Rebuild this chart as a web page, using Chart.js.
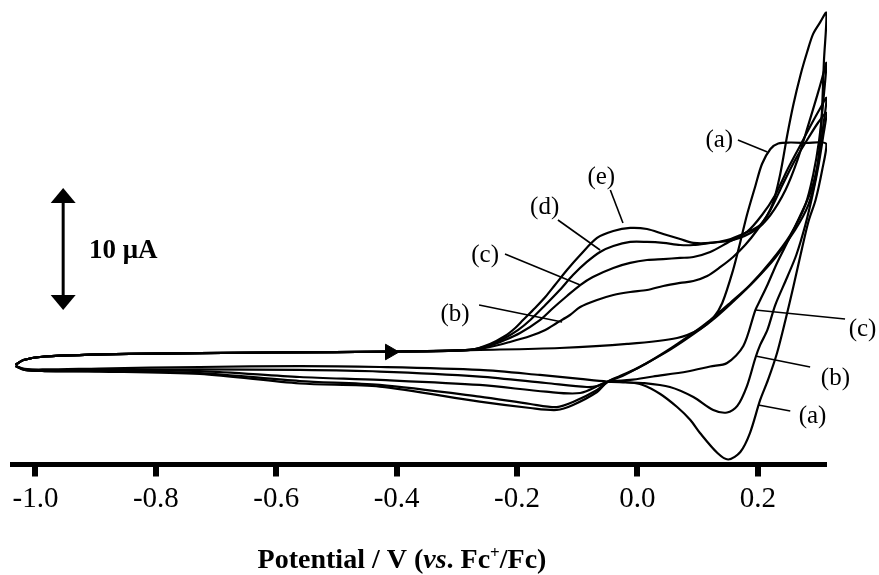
<!DOCTYPE html>
<html>
<head>
<meta charset="utf-8">
<script src="https://cdn.jsdelivr.net/npm/chart.js@4.4.1/dist/chart.umd.min.js"></script>
<style>
  html, body { margin: 0; padding: 0; background: #fff; }
  canvas { display: block; }
</style>
</head>
<body>
<canvas id="cv" width="879" height="575"></canvas>
<script>
// ---- Data: potential (V vs Fc+/Fc) and current (uA) for each CV loop ----
const tickValues = [-1.0, -0.8, -0.6, -0.4, -0.2, 0.0, 0.2];

const potA = [-1.033,-1.020,-0.985,-0.844,-0.611,-0.395,-0.262,-0.129,-0.017,0.066,0.104,0.126,0.141,0.159,0.171,0.182,0.196,0.207,0.221,0.234,0.254,0.279,0.314,
              0.307,0.296,0.284,0.271,0.259,0.246,0.232,0.217,0.204,0.187,0.171,0.151,0.133,0.104,0.088,0.066,0.038,0.009,-0.020,-0.050,-0.095,-0.162,-0.262,-0.428,-0.561,-0.727,-0.894,-0.985,-1.018,-1.033];
const curA = [-0.57,-0.16,0.12,0.33,0.45,0.53,0.66,0.82,1.15,1.64,2.38,3.28,4.51,7.21,9.51,11.72,14.10,15.90,17.13,17.58,17.66,17.62,17.54,
              15.41,12.95,11.15,8.44,5.82,3.11,0.41,-1.80,-3.44,-6.15,-7.70,-8.32,-7.79,-6.15,-5.08,-4.02,-2.95,-2.21,-1.97,-1.93,-1.72,-1.39,-0.98,-0.74,-0.66,-0.74,-0.86,-0.94,-0.90,-0.66];

const potB = [-1.033,-1.020,-0.985,-0.844,-0.611,-0.395,-0.278,-0.245,-0.212,-0.178,-0.153,-0.134,-0.112,-0.095,-0.067,-0.040,-0.012,0.016,0.043,0.071,0.093,0.116,0.138,0.159,0.179,0.199,0.221,0.241,0.262,0.284,0.301,0.314,
              0.309,0.301,0.291,0.279,0.264,0.249,0.229,0.216,0.204,0.196,0.182,0.166,0.149,0.126,0.093,0.054,0.009,-0.020,-0.050,-0.067,-0.084,-0.152,-0.262,-0.428,-0.561,-0.727,-0.894,-0.985,-1.018,-1.033];
const curB = [-0.57,-0.16,0.12,0.33,0.45,0.53,0.66,0.90,1.31,1.80,2.30,2.87,3.52,4.18,4.75,5.16,5.41,5.57,5.90,6.15,6.31,6.72,7.46,8.28,9.26,10.49,12.13,14.18,16.23,18.03,19.34,20.08,
              18.28,15.82,13.36,10.90,8.44,6.64,4.34,2.30,1.07,0.00,-2.30,-3.93,-4.47,-4.26,-3.20,-2.38,-2.05,-2.01,-1.97,-2.30,-2.38,-2.05,-1.52,-1.11,-0.98,-0.94,-0.98,-1.02,-0.94,-0.66];

const potC = [-1.033,-1.020,-0.985,-0.844,-0.611,-0.395,-0.278,-0.245,-0.220,-0.195,-0.162,-0.140,-0.117,-0.095,-0.074,-0.040,-0.012,0.016,0.043,0.071,0.093,0.121,0.149,0.182,0.207,0.229,0.249,0.271,0.291,0.304,0.314,
              0.309,0.301,0.289,0.271,0.251,0.232,0.216,0.204,0.196,0.176,0.149,0.121,0.083,0.026,-0.012,-0.050,-0.095,-0.152,-0.262,-0.428,-0.561,-0.727,-0.894,-0.985,-1.018,-1.033];
const curC = [-0.57,-0.16,0.12,0.33,0.45,0.53,0.66,1.02,1.48,2.05,3.11,4.10,5.08,5.98,6.64,7.38,7.79,8.03,8.11,8.20,8.28,8.69,9.43,10.33,11.72,13.36,15.41,17.46,19.34,20.49,21.31,
              19.10,16.23,13.77,11.72,9.67,7.79,5.98,4.75,3.93,0.98,-0.41,-0.70,-1.11,-1.52,-1.80,-1.97,-2.87,-2.76,-2.21,-1.80,-1.56,-1.07,-1.02,-1.02,-0.94,-0.66];

const potD = [-1.033,-1.020,-0.985,-0.844,-0.611,-0.395,-0.278,-0.245,-0.220,-0.198,-0.178,-0.153,-0.129,-0.107,-0.084,-0.062,-0.040,-0.012,0.016,0.043,0.071,0.093,0.121,0.159,0.196,0.221,0.246,0.266,0.284,0.299,0.307,0.314,
              0.309,0.302,0.292,0.279,0.254,0.221,0.187,0.154,0.121,0.088,0.046,0.004,-0.029,-0.050,-0.067,-0.107,-0.134,-0.178,-0.262,-0.428,-0.561,-0.727,-0.894,-0.985,-1.018,-1.033];
const curD = [-0.57,-0.16,0.12,0.33,0.45,0.53,0.66,1.07,1.64,2.30,3.11,4.34,5.57,6.80,7.87,8.69,9.18,9.51,9.51,9.43,9.26,9.26,9.43,9.67,10.49,11.72,13.77,16.23,19.10,21.56,22.95,24.18,
              21.15,17.87,15.00,12.54,10.08,7.87,5.98,4.51,3.11,1.89,0.49,-0.74,-1.48,-1.97,-2.62,-3.61,-4.02,-3.77,-3.17,-2.21,-1.89,-1.23,-1.07,-1.07,-0.98,-0.66];

const potE = [-1.033,-1.020,-0.985,-0.844,-0.611,-0.395,-0.278,-0.245,-0.220,-0.203,-0.190,-0.170,-0.153,-0.137,-0.117,-0.095,-0.067,-0.040,-0.012,0.016,0.043,0.071,0.093,0.121,0.149,0.179,0.204,0.224,0.237,0.249,0.259,0.271,0.282,0.292,0.304,0.314,
              0.310,0.305,0.297,0.284,0.262,0.229,0.196,0.162,0.129,0.096,0.054,0.013,-0.025,-0.050,-0.067,-0.107,-0.134,-0.178,-0.262,-0.428,-0.561,-0.727,-0.894,-0.985,-1.018,-1.033];
const curE = [-0.57,-0.16,0.12,0.33,0.45,0.53,0.66,1.15,1.80,2.46,3.11,4.10,5.00,5.98,7.21,8.44,9.84,10.41,10.66,10.57,10.16,9.75,9.43,9.43,9.67,10.25,10.90,12.54,15.00,18.28,20.74,23.20,25.08,26.56,27.54,28.28,
              24.43,18.69,15.00,12.54,10.49,8.20,6.39,4.75,3.28,2.05,0.66,-0.49,-1.48,-1.97,-2.79,-3.85,-4.26,-4.10,-3.58,-2.35,-2.09,-1.31,-1.11,-1.07,-0.98,-0.66];

// scan direction marker (V, uA)
const scanArrow = [{ x: -0.411, y: 0.49 }];

// curve labels: text, text centre, leader start, leader end (V, uA)
const curveLabels = [
  { text: '(a)', at: [0.136, 17.70], from: [0.167, 17.87], to: [0.216, 16.89] },
  { text: '(e)', at: [-0.060, 14.67], from: [-0.045, 13.77], to: [-0.024, 11.07] },
  { text: '(d)', at: [-0.154, 12.21], from: [-0.132, 11.31], to: [-0.062, 8.85] },
  { text: '(c)', at: [-0.253, 8.20], from: [-0.220, 8.52], to: [-0.095, 5.98] },
  { text: '(b)', at: [-0.303, 3.44], from: [-0.263, 4.34], to: [-0.125, 2.95] },
  { text: '(c)', at: [0.374, 2.21], from: [0.345, 3.20], to: [0.196, 3.93] },
  { text: '(b)', at: [0.329, -1.80], from: [0.287, -0.74], to: [0.196, 0.16] },
  { text: '(a)', at: [0.291, -4.92], from: [0.254, -4.34], to: [0.201, -3.85] }
];

// 10 uA scale bar (V position, top current, span)
const scaleBar = { x: -0.954, top: 13.93, span: 10, label: '10 μA', labelX: -0.911 };

const SERIF = '"Liberation Serif", "Times New Roman", serif';

function toPoints(p, c) { return p.map((v, k) => ({ x: v, y: c[k] })); }

const loops = [[potA, curA], [potB, curB], [potC, curC], [potD, curD], [potE, curE]];

const datasets = loops.map(([p, c]) => ({
  data: toPoints(p, c),
  showLine: true,
  borderColor: '#000',
  borderWidth: 2.2,
  pointRadius: 0,
  tension: 0.3,
  fill: false
}));
datasets.push({
  data: scanArrow,
  showLine: false,
  pointStyle: 'triangle',
  rotation: 90,
  pointRadius: 9,
  backgroundColor: '#000',
  borderColor: '#000',
  borderWidth: 1
});

const whiteBg = {
  id: 'whiteBg',
  beforeDraw(chart) {
    const c = chart.ctx;
    c.save(); c.fillStyle = '#fff'; c.fillRect(0, 0, chart.width, chart.height); c.restore();
  }
};

const annot = {
  id: 'annot',
  afterDraw(chart) {
    const ctx = chart.ctx;
    const xs = chart.scales.x, ys = chart.scales.y;
    const px = v => xs.getPixelForValue(v), py = v => ys.getPixelForValue(v);
    ctx.save();
    ctx.fillStyle = '#000';
    ctx.strokeStyle = '#000';

    // labels with leader lines
    ctx.lineWidth = 1.6;
    ctx.font = '25px ' + SERIF;
    ctx.textAlign = 'center';
    ctx.textBaseline = 'middle';
    for (const L of curveLabels) {
      ctx.beginPath();
      ctx.moveTo(px(L.from[0]), py(L.from[1]));
      ctx.lineTo(px(L.to[0]), py(L.to[1]));
      ctx.stroke();
      ctx.fillText(L.text, px(L.at[0]), py(L.at[1]) - 2);
    }

    // scale bar
    const bx = px(scaleBar.x);
    const yt = py(scaleBar.top), yb = py(scaleBar.top - scaleBar.span);
    const hh = 15, hw = 12.5;
    ctx.lineWidth = 3;
    ctx.beginPath(); ctx.moveTo(bx, yt + hh - 1); ctx.lineTo(bx, yb - hh + 1); ctx.stroke();
    ctx.beginPath(); ctx.moveTo(bx, yt); ctx.lineTo(bx - hw, yt + hh); ctx.lineTo(bx + hw, yt + hh); ctx.closePath(); ctx.fill();
    ctx.beginPath(); ctx.moveTo(bx, yb); ctx.lineTo(bx - hw, yb - hh); ctx.lineTo(bx + hw, yb - hh); ctx.closePath(); ctx.fill();
    ctx.font = 'bold 27px ' + SERIF;
    ctx.textAlign = 'left';
    ctx.textBaseline = 'alphabetic';
    ctx.fillText(scaleBar.label, px(scaleBar.labelX), (yt + yb) / 2 + 9);

    // axis title with italic and superscript parts
    const parts = [
      { t: 'Potential / V (', f: 'bold 28px ' + SERIF, dy: 0 },
      { t: 'vs', f: 'italic bold 28px ' + SERIF, dy: 0 },
      { t: '. Fc', f: 'bold 28px ' + SERIF, dy: 0 },
      { t: '+', f: 'bold 17px ' + SERIF, dy: -10 },
      { t: '/Fc)', f: 'bold 28px ' + SERIF, dy: 0 }
    ];
    let total = 0;
    for (const p of parts) { ctx.font = p.f; p.w = ctx.measureText(p.t).width; total += p.w; }
    let x0 = 402 - total / 2;
    const base = 568;
    for (const p of parts) { ctx.font = p.f; ctx.fillText(p.t, x0, base + p.dy); x0 += p.w; }
    ctx.restore();
  }
};

new Chart(document.getElementById('cv'), {
  type: 'scatter',
  data: { datasets },
  options: {
    responsive: false,
    animation: false,
    devicePixelRatio: 1,
    layout: { padding: { left: 12, right: 52, top: 10, bottom: 0 } },
    plugins: { legend: { display: false }, tooltip: { enabled: false }, title: { display: false } },
    scales: {
      x: {
        type: 'linear',
        position: 'bottom',
        min: -1.039,
        max: 0.315,
        afterBuildTicks: s => { s.ticks = tickValues.map(v => ({ value: v })); },
        afterFit: s => { s.height = 110.5; },
        ticks: {
          callback: v => Number(v).toFixed(1),
          font: { family: SERIF, size: 29 },
          color: '#000',
          padding: 5,
          maxRotation: 0,
          autoSkip: false
        },
        grid: { display: true, drawOnChartArea: false, drawTicks: true, tickLength: 12, tickWidth: 6, tickColor: '#000', color: '#000', lineWidth: 0 },
        border: { display: true, width: 5, color: '#000' }
      },
      y: { display: false, min: -8.73, max: 28.52 }
    }
  },
  plugins: [whiteBg, annot]
});
</script>
</body>
</html>
